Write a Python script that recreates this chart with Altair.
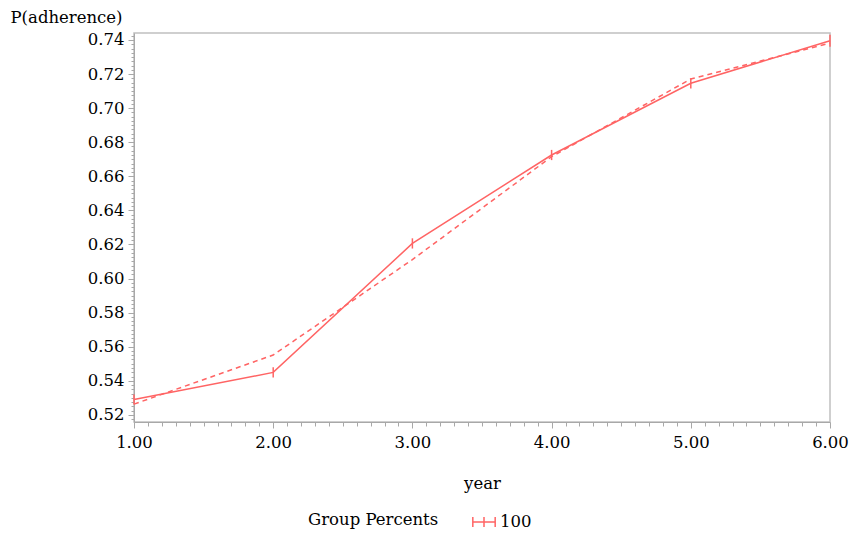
import altair as alt
import pandas as pd

years = [1, 2, 3, 4, 5, 6]
observed = [0.529, 0.5449, 0.6206, 0.6725, 0.7146, 0.7396]
fitted = [0.5263, 0.5551, 0.6111, 0.6715, 0.7171, 0.7382]
err = [0.003, 0.003, 0.003, 0.003, 0.003, 0.0035]
group = ["100"] * 6

x_ticks = [round(1 + i * 0.1, 2) for i in range(51)]
y_ticks = [round(0.5175 + i * 0.0025, 4) for i in range(91) if 0.5175 + i * 0.0025 <= 0.7441]

df = pd.DataFrame({
    "year": years,
    "obs": observed,
    "fit": fitted,
    "lo": [o - e for o, e in zip(observed, err)],
    "hi": [o + e for o, e in zip(observed, err)],
    "group": group,
})

FONT = "DejaVu Serif"
RED = "#ff6464"
TXT = "#000000"
FS = 16.5

xscale = alt.Scale(domain=[1, 6], nice=False, zero=False)
yscale = alt.Scale(domain=[0.5158, 0.7441], nice=False, zero=False)

xaxis = alt.Axis(
    values=x_ticks,
    tickCount=500,
    labelExpr="abs(datum.value - round(datum.value)) < 0.001 ? format(datum.value, '.2f') : ''",
    tickSize={"condition": {"test": "abs(datum.value - round(datum.value)) < 0.001", "value": 6}, "value": 4},
    labelOverlap=False, labelFlush=False,
    labelFont=FONT, labelFontSize=FS, labelColor=TXT, labelPadding=6,
    title="year", titleFont=FONT, titleFontSize=FS, titleFontWeight="normal",
    titleColor=TXT, titlePadding=25,
    grid=False, domainColor="#a8a8a8", tickColor="#a8a8a8",
)
yaxis = alt.Axis(
    values=y_ticks,
    tickCount=500,
    labelExpr="abs(datum.value * 50 - round(datum.value * 50)) < 0.001 ? format(datum.value, '.2f') : ''",
    tickSize={"condition": {"test": "abs(datum.value * 50 - round(datum.value * 50)) < 0.001", "value": 6}, "value": 3},
    labelOverlap=False, labelFlush=False,
    labelFont=FONT, labelFontSize=FS, labelColor=TXT, labelPadding=4,
    title="P(adherence)", titleFont=FONT, titleFontSize=FS, titleFontWeight="normal",
    titleColor=TXT, titleAngle=0, titleAlign="left", titleBaseline="middle",
    titleX=-124, titleY=-16,
    grid=False, domainColor="#a8a8a8", tickColor="#a8a8a8",
)

base = alt.Chart(df)

obs_line = base.mark_line(strokeWidth=1.5).encode(
    x=alt.X("year:Q", scale=xscale, axis=xaxis),
    y=alt.Y("obs:Q", scale=yscale, axis=yaxis),
    color=alt.Color(
        "group:N",
        scale=alt.Scale(range=[RED]),
        legend=alt.Legend(
            title="Group  Percents",
            orient="none", legendX=174, legendY=477,
            direction="horizontal", titleOrient="left",
            titleFont=FONT, titleFontSize=FS, titleFontWeight="normal", titleColor=TXT,
            titlePadding=28, titleBaseline="middle",
            labelFont=FONT, labelFontSize=FS, labelColor=TXT,
            symbolType="M-1,0H1M-1,-0.45V0.45M0,-0.45V0.45M1,-0.45V0.45",
            symbolSize=500, symbolStrokeWidth=1.5, symbolStrokeColor=RED,
            symbolFillColor="transparent", labelOffset=4,
        ),
    ),
)

fit_line = base.mark_line(strokeWidth=1.5, strokeDash=[5, 4], color=RED).encode(
    x=alt.X("year:Q", scale=xscale),
    y=alt.Y("fit:Q", scale=yscale),
)

bars = base.mark_rule(strokeWidth=1.5, color=RED).encode(
    x=alt.X("year:Q", scale=xscale),
    y=alt.Y("lo:Q", scale=yscale),
    y2="hi:Q",
)

chart = alt.layer(fit_line, obs_line, bars).properties(
    width=696,
    height=389,
    autosize=alt.AutoSizeParams(type="none"),
    padding={"left": 134, "top": 33, "right": 20, "bottom": 115},
    background="white",
).configure_view(stroke="#c0c0c0", strokeWidth=1.5)

chart.save("out.html", embed_options={"renderer": "svg", "actions": False})
